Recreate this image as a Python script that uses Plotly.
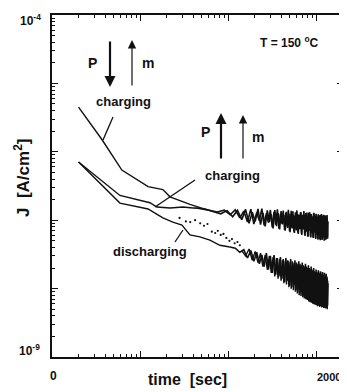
import plotly.graph_objects as go

# ---- data (time in sec, J in A/cm^2) ----
# charging, P down / m up : early smooth part
tA = [2.0, 3.7, 6.2, 12.3, 18.1, 21.8, 36.7, 52]
jA = [4.5e-6, 1.5e-6, 5.4e-7, 3.1e-7, 2.8e-7, 2.2e-7, 1.7e-7, 1.48e-7]
# its noisy continuation, every 15 s from 67 s (values in 1e-8 A/cm^2)
tA_noise = list(range(67, 1351, 15))
jA_noise_e8 = [13.6, 12.4, 13.8, 11.2, 13.9, 10.2, 14.4, 9.0, 13.1, 9.6,
               14.6, 8.6, 12.8, 8.1, 13.9, 9.4, 12.2, 7.6, 14.0, 8.2,
               12.7, 7.3, 13.6, 8.7, 11.9, 7.0, 13.3, 7.7, 12.5, 6.7,
               13.7, 7.6, 11.8, 6.5, 13.0, 7.1, 12.4, 6.3, 11.6, 7.8,
               13.1, 6.1, 12.0, 7.3, 11.2, 5.9, 12.7, 6.8, 11.7, 5.7,
               12.9, 7.0, 10.8, 5.6, 12.2, 6.5, 11.4, 5.5, 12.6, 6.9,
               10.6, 5.3, 12.1, 6.2, 11.3, 5.2, 11.9, 6.6, 10.3, 5.1,
               12.0, 6.0, 10.9, 5.2, 11.5, 6.3, 10.1, 5.0, 11.8, 5.7,
               10.6, 5.2, 11.4, 6.1, 10.0, 5.4]

# charging, P up / m up : early smooth part
tB_early = [2.0, 5.9, 12.9, 15.5, 21.8, 30.6, 39.7]
jB_early = [7.1e-7, 2.3e-7, 1.8e-7, 1.56e-7, 1.51e-7, 1.56e-7, 1.51e-7]
# noisy part, every 15 s from 45 s to 1350 s (values in 1e-8 A/cm^2)
tB_noise = list(range(45, 1351, 15))
jB_noise_e8 = [15.0, 14.0, 13.2, 14.0, 12.0, 14.2, 10.8, 13.6, 9.4, 14.5,
               8.8, 13.0, 9.8, 14.8, 8.4, 12.6, 9.2, 14.1, 7.9, 13.2,
               8.6, 14.4, 7.6, 12.4, 8.9, 13.8, 7.2, 12.9, 8.1, 14.2,
               6.9, 12.2, 7.8, 13.5, 6.8, 11.6, 8.3, 13.9, 6.6, 12.1,
               7.4, 13.2, 6.4, 11.4, 7.9, 13.6, 6.2, 12.0, 7.0, 12.9,
               5.9, 11.2, 7.5, 13.1, 5.8, 12.3, 6.9, 11.0, 5.6, 12.8,
               6.6, 11.5, 5.5, 12.4, 7.2, 10.9, 5.4, 12.2, 6.3, 11.8,
               5.3, 10.6, 6.8, 12.3, 5.2, 11.1, 6.0, 12.0, 5.6, 10.4,
               5.1, 11.7, 6.4, 10.8, 5.3, 11.9, 5.9, 9.6]

# discharging : early smooth part
tC_early = [2.0, 5.9, 12.3, 18.1, 23.5, 29.8, 36.7, 47.6, 61.8, 80.3, 104]
jC_early = [7.1e-7, 1.78e-7, 1.46e-7, 1.08e-7, 9.4e-8, 8.5e-8, 6.1e-8, 5.7e-8,
            5.1e-8, 4.3e-8, 4.05e-8]
# noisy part, every 15 s from 120 s to 1350 s (values in 1e-9 A/cm^2)
tC_noise = list(range(120, 1351, 15))
jC_noise_e9 = [39, 34, 37, 28, 36, 25, 34, 23, 31, 21,
               33, 19, 30, 17, 31, 16, 28, 15, 29, 14,
               27, 12.5, 28, 13, 25, 11, 27, 10.5, 24, 11.5,
               26, 9.5, 23, 10, 25, 8.5, 22, 9.5, 24, 8,
               21, 9, 23, 7.5, 20, 8.5, 22, 7, 19, 8,
               21, 6.8, 18, 7.6, 20, 6.4, 17.5, 7.2, 19, 6.2,
               17, 6.9, 18.5, 5.9, 16.5, 6.6, 18, 5.6, 16, 6.3,
               17.5, 5.4, 15.5, 6.0, 17, 5.3, 15, 5.8, 16.5, 5.2,
               14.5, 5.6, 12]

# second discharging measurement: sparse dots, then dense noisy part
tD = [28, 33, 37, 42, 48, 53, 58, 65, 71, 76, 82, 88, 95, 103, 110, 118, 127, 135]
jD = [1.08e-7, 9.6e-8, 9.4e-8, 1.0e-7, 9.0e-8, 8.3e-8, 8.8e-8, 6.8e-8, 6.5e-8,
      7.0e-8, 6.1e-8, 6.3e-8, 5.5e-8, 5.0e-8, 5.3e-8, 4.6e-8, 4.8e-8, 4.3e-8]
tD_noise = list(range(142, 1351, 15))
jD_noise_e9 = [36, 30, 38, 26, 35, 24, 33, 21, 31, 19,
               30, 17, 29, 15, 28, 14, 27, 13, 26, 12,
               25, 11.5, 26, 10.5, 24, 10, 25, 9.5, 23, 9,
               24, 8.5, 22, 8, 23, 7.8, 21, 7.5, 22, 7.2,
               20, 7, 21, 6.8, 19, 6.5, 20, 6.3, 18.5, 6.2,
               19, 6, 17.5, 5.9, 18, 5.8, 17, 5.7, 17.5, 5.5,
               16, 5.6, 17, 5.4, 15.5, 5.5, 16.5, 5.3, 15, 5.4,
               16, 5.2, 14.5, 5.3, 15.5, 5.1, 14, 5.2, 15, 5.0,
               13]

# axis ticks
x_tickvals = [1, 10, 100, 1000]
x_minor = [2, 3, 4, 5, 6, 7, 8, 9, 20, 30, 40, 50, 60, 70, 80, 90,
           200, 300, 400, 500, 600, 700, 800, 900]
y_tickvals = [1e-9, 1e-8, 1e-7, 1e-6, 1e-5, 1e-4]
y_minor = [m * 10.0 ** e for e in range(-9, -4) for m in range(2, 10)]

FONT = "Liberation Sans"
BLACK = "#111111"

fig = go.Figure()
line_style = dict(color=BLACK, width=1.4)
noisy_style = dict(color=BLACK, width=1.6)
fig.add_trace(go.Scatter(x=tA, y=jA, mode="lines", line=line_style))
fig.add_trace(go.Scatter(x=tA[-1:] + tA_noise,
                         y=jA[-1:] + [v * 1e-8 for v in jA_noise_e8],
                         mode="lines", line=noisy_style))
fig.add_trace(go.Scatter(x=tB_early, y=jB_early, mode="lines", line=line_style))
fig.add_trace(go.Scatter(x=tB_early[-1:] + tB_noise,
                         y=jB_early[-1:] + [v * 1e-8 for v in jB_noise_e8],
                         mode="lines", line=noisy_style))
fig.add_trace(go.Scatter(x=tC_early, y=jC_early, mode="lines", line=line_style))
fig.add_trace(go.Scatter(x=tC_early[-1:] + tC_noise,
                         y=jC_early[-1:] + [v * 1e-9 for v in jC_noise_e9],
                         mode="lines", line=noisy_style))
fig.add_trace(go.Scatter(x=tD, y=jD, mode="markers",
                         marker=dict(color=BLACK, size=2.2)))
fig.add_trace(go.Scatter(x=tD_noise, y=[v * 1e-9 for v in jD_noise_e9],
                         mode="lines", line=dict(color=BLACK, width=1.4)))

# The page body has an 8 px margin, so the figure is drawn 8 px smaller and
# the plot area lands at screen pixels 52..343 (x) and 15..357 (y).
def px(x):
    return (x - 52) / 291.0

def py(y):
    return (357 - y) / 342.0

bold = lambda s: "<b>" + s + "</b>"
annots = []
def label(text, x, y, size=13, **kw):
    annots.append(dict(text=bold(text), x=px(x), y=py(y), xref="paper", yref="paper",
                       showarrow=False, font=dict(family=FONT, size=size, color=BLACK),
                       xanchor="center", yanchor="middle", **kw))

label("T = 150 <sup>o</sup>C", 289, 42, size=12)
label("P", 92, 63, size=14)
label("m", 148, 63, size=14)
label("charging", 123, 101, size=13)
label("P", 205, 132, size=14)
label("m", 258, 137, size=14)
label("charging", 232, 175, size=13)
label("discharging", 150, 251, size=13)
label("time  [sec]", 187, 379, size=16)
label("J  [A/cm<sup>2</sup>]", 22, 178, size=17, textangle=-90)
# tick labels
label("0", 53, 376, size=12)
label("2000", 329, 377, size=11)
label("10<sup>-4</sup>", 30, 20, size=12)
label("10<sup>-9</sup>", 29, 350, size=12)

def arrow(x, y_head, y_tail, width, size):
    annots.append(dict(text="", x=px(x), y=py(y_head), xref="paper", yref="paper",
                       ax=0, ay=y_tail - y_head, axref="pixel", ayref="pixel",
                       showarrow=True, arrowhead=2, arrowsize=size, arrowwidth=width,
                       arrowcolor=BLACK))

arrow(110, 87, 40, 2.2, 1.0)
arrow(132, 40, 87, 1.2, 1.4)
arrow(221, 113, 160, 2.2, 1.0)
arrow(243, 115, 160, 1.2, 1.4)

shapes = []
def pointer(x0, y0, x1, y1):
    shapes.append(dict(type="line", xref="paper", yref="paper",
                       x0=px(x0), y0=py(y0), x1=px(x1), y1=py(y1),
                       line=dict(color=BLACK, width=1.3)))

pointer(113, 117, 103, 140)
pointer(195, 180, 155, 207)
pointer(183, 230, 175, 242)

axis_common = dict(showline=True, linecolor=BLACK, linewidth=2, mirror="allticks",
                   ticks="inside", ticklen=6, tickwidth=1.3, tickcolor=BLACK,
                   showgrid=False, zeroline=False, automargin=False,
                   showticklabels=False)

fig.update_layout(
    width=339, height=384,
    margin=dict(l=44, r=4, t=7, b=35, autoexpand=False),
    paper_bgcolor="white", plot_bgcolor="white",
    showlegend=False,
    annotations=annots, shapes=shapes,
    xaxis=dict(type="log", range=[0, 3.301], tickmode="array",
               tickvals=x_tickvals,
               minor=dict(tickmode="array", tickvals=x_minor, ticks="inside",
                          ticklen=3, tickcolor=BLACK, tickwidth=1, showgrid=False),
               **axis_common),
    yaxis=dict(type="log", range=[-9, -4], tickmode="array",
               tickvals=y_tickvals,
               minor=dict(tickmode="array", tickvals=y_minor, ticks="inside",
                          ticklen=3, tickcolor=BLACK, tickwidth=1, showgrid=False),
               **axis_common),
)

fig.write_html("out.html")
